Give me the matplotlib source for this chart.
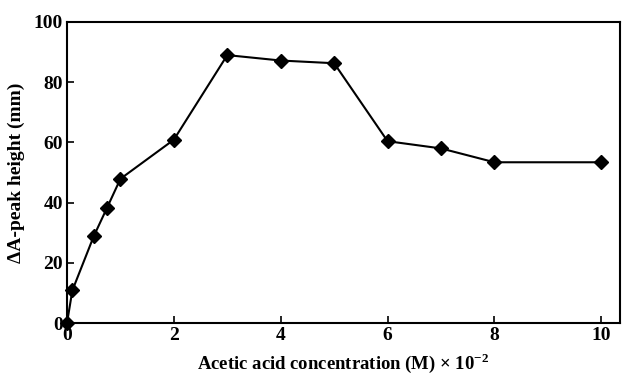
import matplotlib.pyplot as plt

conc = [0, 0.1, 0.5, 0.75, 1, 2, 3, 4, 5, 6, 7, 8, 10]
peak = [0, 10.8, 28.8, 38.3, 47.9, 60.9, 89.0, 87.2, 86.3, 60.4, 58.0, 53.4, 53.4]
xticks = [0, 2, 4, 6, 8, 10]
yticks = [0, 20, 40, 60, 80, 100]

plt.rcParams['font.family'] = ['Liberation Serif', 'DejaVu Serif']
plt.rcParams['font.weight'] = 'bold'
plt.rcParams['mathtext.fontset'] = 'custom'
plt.rcParams['mathtext.rm'] = 'Liberation Serif:bold'
plt.rcParams['mathtext.bf'] = 'Liberation Serif:bold'

fig = plt.figure(figsize=(6.22, 3.76), dpi=100)
ax = fig.add_axes([67 / 622, 53 / 376, 553 / 622, 301 / 376])

ax.plot(conc, peak, color='black', lw=1.5, marker='D', ms=7.5, mfc='black', mec='black', clip_on=False)

ax.set_xlim(0, 10.35)
ax.set_ylim(0, 100)
ax.set_xticks(xticks)
ax.set_yticks(yticks)
ax.tick_params(direction='in', length=5, width=1.2, labelsize=14, pad=3)
for s in ax.spines.values():
    s.set_linewidth(1.5)

ax.set_xlabel('Acetic acid concentration (M) × 10$^{\\mathbf{-2}}$', fontsize=13.5, fontweight='bold', labelpad=5)
ax.set_ylabel('ΔA-peak height (mm)', fontsize=14, fontweight='bold', labelpad=6)

fig.savefig('out.png', dpi=100)
